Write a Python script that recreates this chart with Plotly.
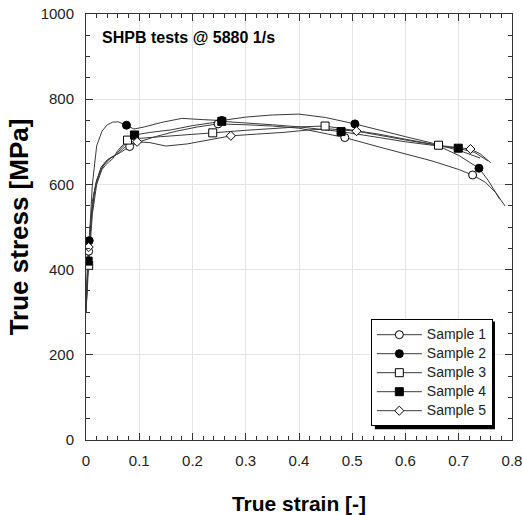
import plotly.graph_objects as go

# ---- data ----
s1_strain = [0, 0.003, 0.005, 0.008, 0.015, 0.025, 0.035, 0.045, 0.055, 0.065, 0.082, 0.1, 0.13, 0.17, 0.21, 0.248, 0.3, 0.35, 0.4, 0.45, 0.486, 0.55, 0.6, 0.65, 0.7, 0.726, 0.75, 0.77, 0.787]
s1_stress = [300, 400, 443, 500, 580, 625, 650, 662, 668, 675, 689, 700, 712, 725, 735, 742, 740, 737, 732, 720, 710, 688, 672, 655, 635, 622, 605, 580, 549]
s2_strain = [0, 0.003, 0.006, 0.012, 0.02, 0.03, 0.04, 0.05, 0.06, 0.076, 0.09, 0.11, 0.14, 0.18, 0.22, 0.255, 0.3, 0.35, 0.4, 0.45, 0.505, 0.55, 0.6, 0.65, 0.7, 0.738, 0.755, 0.777]
s2_stress = [320, 420, 468, 600, 690, 725, 740, 746, 747, 739, 730, 735, 745, 755, 752, 750, 758, 763, 765, 757, 742, 727, 712, 697, 668, 638, 610, 565]
s3_strain = [0, 0.002, 0.005, 0.012, 0.02, 0.03, 0.04, 0.05, 0.06, 0.078, 0.1, 0.14, 0.19, 0.238, 0.3, 0.35, 0.4, 0.449, 0.5, 0.55, 0.6, 0.662, 0.7, 0.74]
s3_stress = [300, 360, 410, 530, 600, 635, 650, 660, 680, 704, 708, 712, 716, 721, 727, 731, 735, 737, 728, 718, 706, 692, 680, 662]
s4_strain = [0, 0.002, 0.004, 0.01, 0.018, 0.028, 0.04, 0.055, 0.07, 0.091, 0.12, 0.16, 0.2, 0.255, 0.3, 0.35, 0.4, 0.479, 0.55, 0.6, 0.65, 0.699, 0.73, 0.755]
s4_stress = [300, 380, 420, 520, 600, 640, 658, 668, 690, 716, 722, 728, 738, 748, 745, 740, 735, 724, 710, 700, 692, 685, 675, 655]
s5_strain = [0, 0.003, 0.005, 0.012, 0.02, 0.03, 0.04, 0.05, 0.06, 0.075, 0.096, 0.12, 0.15, 0.19, 0.23, 0.272, 0.32, 0.37, 0.42, 0.46, 0.508, 0.56, 0.61, 0.66, 0.722, 0.74, 0.76]
s5_stress = [310, 420, 453, 560, 610, 640, 655, 665, 672, 690, 700, 698, 690, 695, 705, 714, 718, 722, 728, 730, 725, 713, 702, 692, 683, 672, 651]

m1_strain = [0.005, 0.082, 0.248, 0.486, 0.726]
m1_stress = [443, 689, 742, 710, 622]
m2_strain = [0.006, 0.076, 0.255, 0.505, 0.738]
m2_stress = [468, 739, 750, 742, 638]
m3_strain = [0.005, 0.078, 0.238, 0.449, 0.662]
m3_stress = [410, 704, 721, 737, 692]
m4_strain = [0.004, 0.091, 0.255, 0.479, 0.699]
m4_stress = [420, 716, 748, 724, 685]
m5_strain = [0.005, 0.096, 0.272, 0.508, 0.722]
m5_stress = [453, 700, 714, 725, 683]

names = ["Sample 1", "Sample 2", "Sample 3", "Sample 4", "Sample 5"]
x_ticks = [0, 0.1, 0.2, 0.3, 0.4, 0.5, 0.6, 0.7, 0.8]
y_ticks = [0, 200, 400, 600, 800, 1000]

curves = [(s1_strain, s1_stress), (s2_strain, s2_stress), (s3_strain, s3_stress),
          (s4_strain, s4_stress), (s5_strain, s5_stress)]
marks = [(m1_strain, m1_stress), (m2_strain, m2_stress), (m3_strain, m3_stress),
         (m4_strain, m4_stress), (m5_strain, m5_stress)]
styles = [
    dict(symbol="circle", color="white", size=8),
    dict(symbol="circle", color="black", size=8),
    dict(symbol="square", color="white", size=8),
    dict(symbol="square", color="black", size=8),
    dict(symbol="diamond", color="white", size=7),
]
LINE = "#3a3a3a"
FONT = "Liberation Sans, Arial"

fig = go.Figure()
for cx, cy in curves:
    fig.add_trace(go.Scatter(x=cx, y=cy, mode="lines", line=dict(color=LINE, width=1),
                             showlegend=False, hoverinfo="skip"))
for (mx, my), st, nm in zip(marks, styles, names):
    mk = dict(symbol=st["symbol"], color=st["color"], size=st["size"],
              line=dict(color="black", width=1))
    fig.add_trace(go.Scatter(x=mx, y=my, mode="markers", marker=mk, showlegend=False))
    fig.add_trace(go.Scatter(x=[None], y=[None], mode="lines+markers",
                             name=f'<span style="font-size:14px">{nm}</span>',
                             line=dict(color=LINE, width=1), marker=mk))

axis_common = dict(
    showline=True, linecolor="#333", linewidth=1, mirror="ticks",
    ticks="inside", ticklen=7, tickcolor="#333", tickwidth=1,
    showgrid=True, gridcolor="#e4e4e4", gridwidth=1, zeroline=False, automargin=False,
    tickfont=dict(family=FONT, size=15, color="#222"),
)
fig.update_xaxes(range=[0, 0.8], tickvals=x_ticks, ticktext=[f"{v:g}" for v in x_ticks],
                 ticklabelstandoff=7,
                 minor=dict(dtick=0.02, ticks="inside", ticklen=4, tickcolor="#333", showgrid=False),
                 title=dict(text="<b>True strain [-]</b>", standoff=33,
                            font=dict(family=FONT, size=21, color="black")),
                 **axis_common)
fig.update_yaxes(range=[0, 1000], tickvals=y_ticks, ticktext=[str(v) for v in y_ticks],
                 ticklabelstandoff=8,
                 minor=dict(dtick=50, ticks="inside", ticklen=4, tickcolor="#333", showgrid=False),
                 title=dict(text="<b>True stress [MPa]</b>", standoff=4,
                            font=dict(family=FONT, size=26, color="black")),
                 **axis_common)

fig.add_annotation(text="<b>SHPB tests @ 5880 1/s</b>", xref="paper", yref="paper",
                   x=0.033, y=0.946, xanchor="left", yanchor="middle", showarrow=False,
                   font=dict(family=FONT, size=16, color="black"))

# legend shadow
fig.add_shape(type="rect", xref="paper", yref="paper", x0=0.678, x1=0.960, y0=0.025, y1=0.278,
              fillcolor="black", line=dict(width=0), layer="above")

fig.update_layout(
    width=523, height=515,
    margin=dict(l=86, r=11, t=14, b=75),
    plot_bgcolor="white", paper_bgcolor="white",
    legend=dict(x=0.955, y=0.158, xanchor="right", yanchor="middle",
                bgcolor="white", bordercolor="black", borderwidth=1,
                font=dict(family=FONT, size=12, color="#222"),
                tracegroupgap=0, itemwidth=45),
    showlegend=True,
)
fig.write_html("out.html", config={"displayModeBar": False},
               post_script="document.body.style.margin='0px';")
